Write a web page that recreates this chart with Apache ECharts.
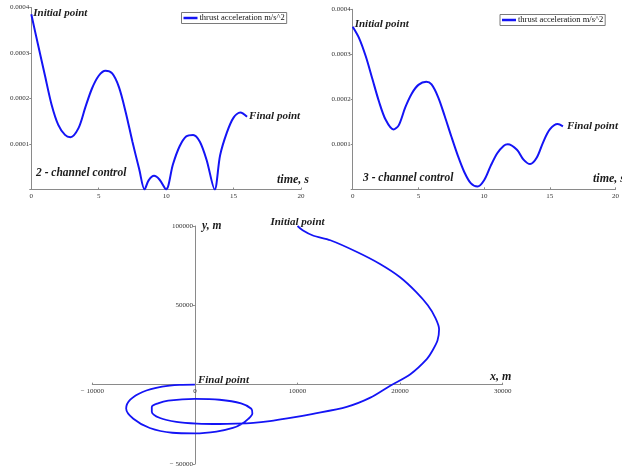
<!DOCTYPE html>
<html>
<head>
<meta charset="utf-8">
<script src="https://cdn.jsdelivr.net/npm/echarts@6/dist/echarts.min.js"></script>
<style>
  html, body { margin: 0; padding: 0; background: #fff; }
  #chart { width: 622px; height: 471px; }
</style>
</head>
<body>
<div id="chart"></div>
<script>
// Thrust acceleration, 2-channel control (time in s, acceleration in m/s^2)
const time2 = [0, 0.5, 1.0, 1.5, 2.0, 2.5, 2.9, 3.5, 4.0, 4.5, 5.0, 5.5, 6.0, 6.5, 7.0, 7.5, 8.0, 8.4,
               8.7, 9.1, 9.5, 10.0, 10.5, 11.0, 11.5, 12.0, 12.5, 13.0, 13.6, 14.0, 14.5, 15.0, 15.5, 16.0];
const accel2 = [0.000385, 0.000318, 0.000252, 0.000187, 0.000142, 0.000120, 0.000115, 0.000135, 0.000180,
                0.000222, 0.000250, 0.000261, 0.000255, 0.000225, 0.000170, 0.000105, 0.000045, 0.0,
                0.000020, 0.000030, 0.000022, 0.0, 0.000055, 0.000095, 0.000117, 0.000120, 0.000105,
                0.000065, 0.0, 0.000075, 0.000125, 0.000158, 0.000169, 0.000160];

// Thrust acceleration, 3-channel control
const time3 = [0, 0.5, 1.0, 1.5, 2.0, 2.5, 3.1, 3.5, 4.0, 4.5, 5.0, 5.6, 6.0, 6.5, 7.0, 7.5, 8.0, 8.5,
               9.0, 9.5, 10.0, 10.5, 11.0, 11.5, 11.8, 12.5, 13.0, 13.5, 14.0, 14.5, 15.0, 15.6, 16.0];
const accel3 = [0.000361, 0.000335, 0.000295, 0.000245, 0.000195, 0.000155, 0.000133, 0.000142, 0.000182,
                0.000213, 0.000232, 0.000239, 0.000233, 0.000205, 0.000163, 0.000118, 0.000075, 0.000038,
                0.000013, 0.000006, 0.000020, 0.000052, 0.000080, 0.000097, 0.000100, 0.000088, 0.000066,
                0.000056, 0.000070, 0.000105, 0.000133, 0.000145, 0.000140];

// Trajectory in the plane (m), from the initial point to the final point
const trajX = [10000, 10500, 11500, 13200, 15800, 18000, 20000, 21600, 22700, 23450, 23800, 23650, 23200,
               22600, 21000, 19000, 17100, 14800, 11400, 9000, 7300, 5700, 4000, 2400, 200, -1800, -3400,
               -4200, -4200, -3600, -2600, 0, 2400, 4500, 5500, 5600, 5200, 4600, 3700, 2100, 0, -2200,
               -4400, -6000, -6700, -6300, -5100, -3200, -1500, 0];
const trajY = [100000, 97300, 94000, 91000, 83600, 76200, 67700, 58200, 50000, 42000, 35000, 28000, 22000,
               16100, 6600, -800, -8200, -14000, -18500, -21300, -23000, -24100, -24600, -24800, -24500,
               -23400, -21000, -17000, -14000, -11800, -10100, -9000, -9500, -11800, -15200, -18200, -21600,
               -24600, -27300, -29600, -30700, -30300, -27300, -21500, -15000, -9500, -4600, -1300, -150, 0];

const timeTicks = { min: 0, max: 20, interval: 5 };
const accelTicks = { min: 0, max: 0.0004, interval: 0.0001 };
const xTicks = { min: -10000, max: 30000, interval: 10000 };
const yTicks = { min: -50000, max: 100000, interval: 50000 };

const seriesName = 'thrust acceleration m/s^2';
const blue = '#1414f5';
const serif = 'Liberation Serif';
const noteStyle = { fontFamily: serif, fontStyle: 'italic', fontWeight: 'bold', fontSize: 11, color: '#1c1c1c' };

const pairs = (a, b) => a.map((v, i) => [v, b[i]]);

const tickLabel = { fontFamily: serif, fontSize: 7, color: '#333' };
const axisLineStyle = { lineStyle: { color: '#8a8a8a', width: 1 } };

function minusFmt(v) {
  return v < 0 ? '\u2212 ' + Math.abs(v) : String(v);
}

function timeAxis(gridIndex) {
  return {
    type: 'value', gridIndex, ...timeTicks,
    axisLine: axisLineStyle,
    axisTick: { show: true, inside: true, length: 2, lineStyle: { color: '#8a8a8a' } },
    axisLabel: { ...tickLabel, margin: 3 },
    splitLine: { show: false }
  };
}
function accelAxis(gridIndex) {
  return {
    type: 'value', gridIndex, ...accelTicks,
    axisLine: { show: true, ...axisLineStyle },
    axisTick: { show: true, length: 2, lineStyle: { color: '#8a8a8a' } },
    axisLabel: { ...tickLabel, margin: 2, formatter: v => v === 0 ? '' : v.toFixed(4) },
    splitLine: { show: false }
  };
}

function endLabel(name, coord, offset, extra) {
  return {
    name, coord,
    symbol: 'circle', symbolSize: 0,
    label: {
      show: true, formatter: name, position: 'right', distance: 0, offset,
      align: 'left', verticalAlign: 'middle', ...noteStyle, ...(extra || {})
    }
  };
}

// Plane grid: axes cross at the origin, so each axis is shifted in from the grid edge
const planeGrid = { left: 92.3, top: 226, width: 410.4, height: 238 };
const zeroFromBottom = planeGrid.height * (0 - yTicks.min) / (yTicks.max - yTicks.min);
const zeroFromLeft = planeGrid.width * (0 - xTicks.min) / (xTicks.max - xTicks.min);

const chart = echarts.init(document.getElementById('chart'), null, { renderer: 'canvas' });

const n2 = time2.length - 1, n3 = time3.length - 1, nt = trajX.length - 1;

const legendBase = {
  data: [seriesName],
  icon: 'rect', itemWidth: 14, itemHeight: 2.5, itemGap: 0,
  padding: [1, 2, 1, 2], borderColor: '#7a7a7a', borderWidth: 1,
  textStyle: { fontFamily: serif, fontSize: 8.5, color: '#111', padding: [0, 0, 0, -3] },
  selectedMode: false
};

chart.setOption({
  animation: false,
  backgroundColor: '#fff',
  grid: [
    { left: 31.3, top: 7.5, width: 269.7, height: 182 },
    { left: 352.7, top: 9.3, width: 264, height: 180 },
    planeGrid
  ],
  legend: [
    { ...legendBase, left: 181.5, top: 12.5 },
    { ...legendBase, left: 500, top: 14.5 }
  ],
  xAxis: [
    timeAxis(0),
    timeAxis(1),
    {
      type: 'value', gridIndex: 2, ...xTicks,
      position: 'bottom', offset: -zeroFromBottom,
      axisLine: { onZero: false, ...axisLineStyle },
      axisTick: { show: true, inside: true, length: 2, lineStyle: { color: '#8a8a8a' } },
      axisLabel: { ...tickLabel, margin: 3, formatter: minusFmt },
      splitLine: { show: false }
    }
  ],
  yAxis: [
    accelAxis(0),
    accelAxis(1),
    {
      type: 'value', gridIndex: 2, ...yTicks,
      position: 'left', offset: -zeroFromLeft,
      axisLine: { show: true, onZero: false, ...axisLineStyle },
      axisTick: { show: true, length: 2, lineStyle: { color: '#8a8a8a' } },
      axisLabel: { ...tickLabel, margin: 2, formatter: v => v === 0 ? '' : minusFmt(v) },
      splitLine: { show: false }
    }
  ],
  series: [
    {
      name: seriesName, type: 'line', xAxisIndex: 0, yAxisIndex: 0,
      data: pairs(time2, accel2), smooth: 0.3, showSymbol: false, symbol: 'none',
      lineStyle: { color: blue, width: 2 }, itemStyle: { color: blue },
      markPoint: {
        silent: true,
        data: [
          endLabel('Initial point', [time2[0], accel2[0]], [2, -1]),
          endLabel('Final point', [time2[n2], accel2[n2]], [2, -1])
        ]
      }
    },
    {
      name: seriesName, type: 'line', xAxisIndex: 1, yAxisIndex: 1,
      data: pairs(time3, accel3), smooth: 0.3, showSymbol: false, symbol: 'none',
      lineStyle: { color: blue, width: 2 }, itemStyle: { color: blue },
      markPoint: {
        silent: true,
        data: [
          endLabel('Initial point', [time3[0], accel3[0]], [2, -2.5]),
          endLabel('Final point', [time3[n3], accel3[n3]], [4, 0])
        ]
      }
    },
    {
      name: 'trajectory', type: 'line', xAxisIndex: 2, yAxisIndex: 2,
      data: pairs(trajX, trajY), smooth: 0.3, showSymbol: false, symbol: 'none',
      lineStyle: { color: blue, width: 1.8 }, itemStyle: { color: blue },
      markPoint: {
        silent: true,
        data: [
          endLabel('Initial point', [trajX[0], trajY[0]], [0, -4], { position: 'inside', align: 'center' }),
          endLabel('Final point', [trajX[nt], trajY[nt]], [3, -4.5])
        ]
      }
    }
  ],
  graphic: [
    { type: 'text', left: 36, top: 167, style: { text: '2 - channel control', ...noteStyle, fontSize: 11.5, fill: '#1c1c1c' } },
    { type: 'text', left: 363, top: 172, style: { text: '3 - channel control', ...noteStyle, fontSize: 11.5, fill: '#1c1c1c' } },
    { type: 'text', left: 277, top: 174, style: { text: 'time, s', ...noteStyle, fontSize: 12, fill: '#1c1c1c' } },
    { type: 'text', left: 593, top: 173, style: { text: 'time, s', ...noteStyle, fontSize: 12, fill: '#1c1c1c' } },
    { type: 'text', left: 202, top: 220, style: { text: 'y, m', ...noteStyle, fontSize: 11.5, fill: '#1c1c1c' } },
    { type: 'text', left: 490, top: 371, style: { text: 'x, m', ...noteStyle, fontSize: 12, fill: '#1c1c1c' } }
  ]
});
</script>
</body>
</html>
